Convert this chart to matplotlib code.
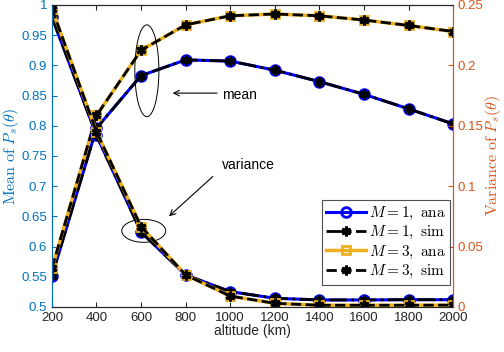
import numpy as np
import matplotlib
matplotlib.use("Agg")
import matplotlib.pyplot as plt
from matplotlib.patches import Ellipse

plt.rcParams['font.family'] = ['Liberation Sans', 'DejaVu Sans']
plt.rcParams['mathtext.fontset'] = 'cm'

# -----------------------------
# Data
# -----------------------------
altitude = [200, 400, 600, 800, 1000, 1200, 1400, 1600, 1800, 2000]

mean_m1 = [0.551, 0.796, 0.883, 0.909, 0.907, 0.892, 0.873, 0.852, 0.828, 0.803]
mean_m3 = [0.564, 0.817, 0.925, 0.967, 0.982, 0.985, 0.982, 0.975, 0.966, 0.956]

var_m1 = [0.240, 0.142, 0.062, 0.0265, 0.0127, 0.0072, 0.0058, 0.0058, 0.006, 0.006]
var_m3 = [0.247, 0.145, 0.0665, 0.0265, 0.009, 0.003, 0.0014, 0.0014, 0.0014, 0.0015]

x_ticks = [200, 400, 600, 800, 1000, 1200, 1400, 1600, 1800, 2000]
y1_ticks = [0.5, 0.55, 0.6, 0.65, 0.7, 0.75, 0.8, 0.85, 0.9, 0.95, 1]
y2_ticks = [0, 0.05, 0.1, 0.15, 0.2, 0.25]

labels = [r"$M = 1,\ \mathrm{ana}$", r"$M = 1,\ \mathrm{sim}$",
          r"$M = 3,\ \mathrm{ana}$", r"$M = 3,\ \mathrm{sim}$"]

# -----------------------------
# Styles
# -----------------------------
BLUE = (0, 0, 1)
YELLOW = "#EDB120"
LEFT_C = "#0072BD"
RIGHT_C = "#D95319"
AST = (6, 2, 0)

styles = [
    dict(color=BLUE, ls='-', lw=2.2, marker='o', ms=7, mfc='none', mew=2),
    dict(color='k', ls='-.', lw=2.0, marker=AST, ms=7, mew=2.2),
    dict(color=YELLOW, ls='-', lw=2.5, marker='s', ms=6, mfc='none', mew=2),
    dict(color='k', ls='--', lw=2.0, marker=AST, ms=7, mew=2.2),
]

fig = plt.figure(figsize=(5.04, 3.52), dpi=100)
ax1 = fig.add_axes([0.103, 0.128, 0.796, 0.858])
ax2 = ax1.twinx()

means = [mean_m1, mean_m1, mean_m3, mean_m3]
vars_ = [var_m1, var_m1, var_m3, var_m3]
handles = []
for m, v, st, lab in zip(means, vars_, styles, labels):
    ax1.plot(altitude, m, **st)
    h, = ax2.plot(altitude, v, label=lab, **st)
    handles.append(h)

ax1.set_xlim(200, 2000)
ax1.set_ylim(0.5, 1)
ax2.set_ylim(0, 0.25)
ax1.set_xticks(x_ticks)
ax1.set_yticks(y1_ticks)
ax1.set_yticklabels([f"{t:g}" for t in y1_ticks])
ax2.set_yticks(y2_ticks)
ax2.set_yticklabels([f"{t:g}" for t in y2_ticks])

ax1.tick_params(axis='x', direction='in', top=True, colors='#262626', labelsize=9.5, pad=4)
ax1.tick_params(axis='y', direction='in', colors=LEFT_C, labelsize=9.5)
ax2.tick_params(axis='y', direction='in', colors=RIGHT_C, labelsize=9.5)

for a in (ax1, ax2):
    a.spines['top'].set_color('#262626')
    a.spines['bottom'].set_color('#262626')
    a.spines['left'].set_color(LEFT_C)
    a.spines['right'].set_color(RIGHT_C)

ax1.set_xlabel("altitude (km)", fontsize=10, color='#262626', labelpad=0)
ax1.set_ylabel(r"$\mathrm{Mean\ of}\ P_s(\theta)$", color=LEFT_C, fontsize=11.5)
ax2.set_ylabel(r"$\mathrm{Variance\ of}\ P_s(\theta)$", color=RIGHT_C, fontsize=11.5)
ax1.yaxis.set_label_coords(-0.078, 0.5)
ax2.yaxis.set_label_coords(1.074, 0.5)

# annotations
ax1.add_patch(Ellipse((626, 0.891), 108, 0.152, fill=False, ec='k', lw=0.7, zorder=5))
ax1.add_patch(Ellipse((612, 0.626), 197, 0.038, fill=False, ec='k', lw=0.7, zorder=5))
ax1.annotate("", xy=(729, 0.854), xytext=(953, 0.854),
             arrowprops=dict(arrowstyle='->', lw=0.8, color='k'))
ax1.text(962, 0.851, "mean", fontsize=10, va='center', ha='left')
ax1.annotate("", xy=(716, 0.647), xytext=(931, 0.719),
             arrowprops=dict(arrowstyle='->', lw=0.8, color='k'))
ax1.text(962, 0.735, "variance", fontsize=10, va='center', ha='left')

leg = ax2.legend(handles=handles, loc='lower right', bbox_to_anchor=(0.993, 0.073),
                 borderaxespad=0, fontsize=11, frameon=True, fancybox=False,
                 edgecolor='#262626', handlelength=2.6, handletextpad=0.2,
                 labelspacing=0.15, borderpad=0.3)
leg.get_frame().set_linewidth(0.8)

fig.savefig("out.png", dpi=100)
